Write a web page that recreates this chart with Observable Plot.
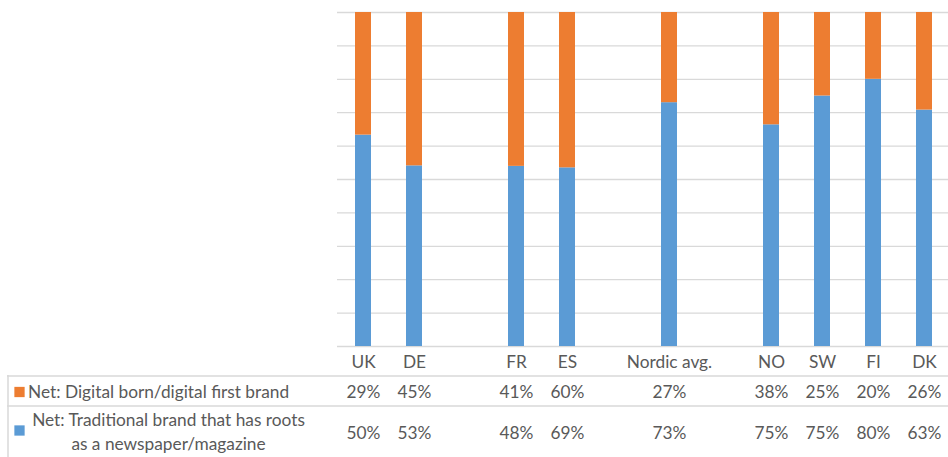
<!DOCTYPE html>
<html><head><meta charset="utf-8">
<script src="https://cdn.jsdelivr.net/npm/d3@7"></script>
<script src="https://cdn.jsdelivr.net/npm/@observablehq/plot@0.6"></script>
<style>body{margin:0;background:#fff;}</style>
</head><body><div id="chart"></div>
<script>
const categories = ["UK", "DE", "FR", "ES", "Nordic avg.", "NO", "SW", "FI", "DK"];
const slots = ["UK", "DE", " ", "FR", "ES", "  ", "Nordic avg.", "   ", "NO", "SW", "FI", "DK"];
const digital = [29, 45, 41, 60, 27, 38, 25, 20, 26];
const traditional = [50, 53, 48, 69, 73, 75, 75, 80, 63];
const seriesKeys = ["traditional", "digital"];
const seriesLabels = ["Net: Traditional brand that has roots\nas a newspaper/magazine", "Net: Digital born/digital first brand"];
const seriesColors = ["#5B9BD5", "#ED7D31"];
const gridTicks = [0, 0.1, 0.2, 0.3, 0.4, 0.5, 0.6, 0.7, 0.8, 0.9, 1];

const data = categories.flatMap((c, i) => [
  {cat: c, series: "traditional", value: traditional[i]},
  {cat: c, series: "digital", value: digital[i]}
]);

const font = "Lato, 'Open Sans', sans-serif";
const textColor = "#595959";
const gridColor = "#d9d9d9";

const chart = Plot.plot({
  width: 948,
  height: 457,
  marginTop: 12,
  marginBottom: 111,
  marginLeft: 7,
  marginRight: 0,
  style: {fontFamily: font, fontSize: "17.3px", color: textColor, background: "#fff"},
  x: {type: "band", domain: slots, range: [333, 953], paddingInner: 0.69, paddingOuter: 0.345, axis: null},
  y: {domain: [0, 1], axis: null},
  color: {domain: seriesKeys, range: seriesColors},
  marks: [
    Plot.ruleY(gridTicks, {y: d => d, x1: () => slots[0], x2: () => slots[slots.length - 1], stroke: gridColor, strokeWidth: 1.3, insetLeft: -18, insetRight: -18}),
    Plot.barY(data, Plot.stackY({offset: "normalize"}, {x: "cat", y: "value", fill: "series", z: "series"})),
    // table borders
    Plot.ruleY([0], {dy: 29.5, stroke: gridColor, strokeWidth: 1.5}),
    Plot.ruleY([0], {dy: 59.5, stroke: gridColor, strokeWidth: 1.5}),
    Plot.ruleX([0], {x: null, dx: 7.5 - (7 + 948) / 2, insetTop: 363, insetBottom: -115, stroke: gridColor, strokeWidth: 1.5}),
    // header row
    Plot.text(categories, {x: d => d, text: d => d, frameAnchor: "bottom", lineAnchor: "middle", dy: 16, fill: textColor}),
    // digital row
    Plot.text(categories, {x: d => d, text: (d, i) => digital[i] + "%", frameAnchor: "bottom", lineAnchor: "middle", dy: 45.5, fill: textColor}),
    // traditional row
    Plot.text(categories, {x: d => d, text: (d, i) => traditional[i] + "%", frameAnchor: "bottom", lineAnchor: "middle", dy: 87, fill: textColor}),
    // legend keys and row labels
    Plot.dot([seriesKeys[1]], {frameAnchor: "bottom-left", dx: 12, dy: 45.5, symbol: "square", r: 5.8, fill: seriesColors[1], stroke: null}),
    Plot.dot([seriesKeys[0]], {frameAnchor: "bottom-left", dx: 12, dy: 84, symbol: "square", r: 5.8, fill: seriesColors[0], stroke: null}),
    Plot.text([seriesLabels[1]], {text: d => d, frameAnchor: "bottom-left", lineAnchor: "middle", dx: 20.5, dy: 45.5, textAnchor: "start", fill: textColor}),
    Plot.text([seriesLabels[0]], {text: d => d, frameAnchor: "bottom-left", lineAnchor: "middle", dx: 161, dy: 84, textAnchor: "middle", lineHeight: 1.35, fill: textColor})
  ]
});
document.getElementById("chart").appendChild(chart);
</script>
</body></html>
